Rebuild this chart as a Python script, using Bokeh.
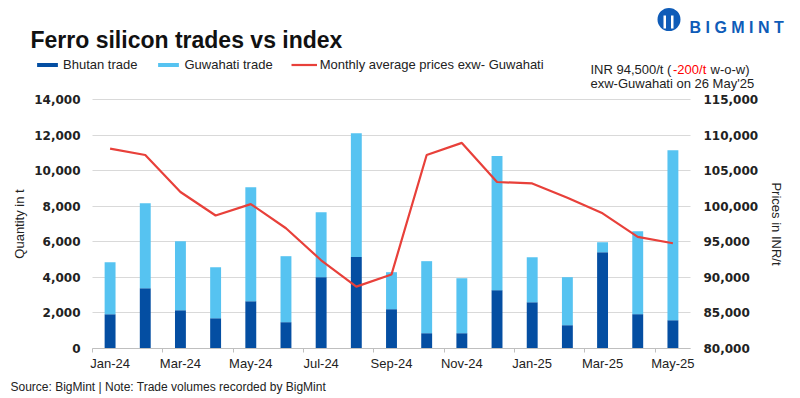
from bokeh.plotting import figure
from bokeh.models import (Range1d, LinearAxis, FixedTicker, NumeralTickFormatter, Grid,
                          Legend, LegendItem, Label, BoxAnnotation, ColumnDataSource)
from bokeh.embed import file_html
from bokeh.resources import INLINE

months = ["Jan-24", "Feb-24", "Mar-24", "Apr-24", "May-24", "Jun-24", "Jul-24", "Aug-24",
          "Sep-24", "Oct-24", "Nov-24", "Dec-24", "Jan-25", "Feb-25", "Mar-25", "Apr-25", "May-25"]
bhutan = [1930, 3390, 2150, 1700, 2660, 1480, 4010, 5150, 2210, 860, 860, 3280, 2600, 1310, 5410, 1930, 1590]
guwahati = [2920, 4770, 3880, 2870, 6400, 3710, 3650, 6950, 2080, 4050, 3090, 7540, 2530, 2700, 560, 4660, 9550]
price = [108100, 107200, 102000, 98700, 100300, 96900, 92400, 88700, 90400, 107200, 108900,
         103400, 103200, 101200, 99000, 95700, 94800]
qty_ticks = [0, 2000, 4000, 6000, 8000, 10000, 12000, 14000]
price_ticks = [80000, 85000, 90000, 95000, 100000, 105000, 110000, 115000]
series_names = ["Bhutan trade", "Guwahati trade", "Monthly average prices exw- Guwahati"]

DARK = "#044EA2"
LIGHT = "#56C3F1"
RED = "#E8403A"
TXT = "#222222"
LOGO = "#0F5CB8"

# canvas and plot-area box (pixels)
W, H = 800, 398
PL, PR, PT, PB = 92, 690, 99, 348

n = len(months)
x = list(range(n))
# ranges chosen so that the chart area maps onto the PL..PR / PT..PB pixel box
xs = (n) / (PR - PL)
x0, x1 = -0.5 - PL * xs, -0.5 + (W - PL) * xs
qs = (qty_ticks[-1] - qty_ticks[0]) / (PB - PT)
q0, q1 = qty_ticks[0] - (H - PB) * qs, qty_ticks[0] + PB * qs
ps = (price_ticks[-1] - price_ticks[0]) / (PB - PT)
pr0, pr1 = price_ticks[0] - (H - PB) * ps, price_ticks[0] + PB * ps

src = ColumnDataSource(dict(x=x, bhutan=bhutan, guwahati=guwahati, price=price))

p = figure(width=W, height=H, output_backend="svg", toolbar_location=None, title=None,
           x_range=Range1d(x0, x1), y_range=Range1d(q0, q1),
           min_border_left=0, min_border_right=0, min_border_top=0, min_border_bottom=0)
p.outline_line_color = None
p.background_fill_color = "white"
p.border_fill_color = "white"
p.extra_y_ranges = {"price": Range1d(pr0, pr1)}

# grid lines limited to the chart area
p.xgrid.visible = False
yg = p.ygrid[0]
yg.ticker = FixedTicker(ticks=qty_ticks)
yg.grid_line_color = "#d9d9d9"
yg.grid_line_width = 1
if "cross_bounds" in Grid.properties():
    yg.cross_bounds = (-0.5, n - 0.5)
else:
    yg.visible = False
    p.segment(x0=[-0.5] * len(qty_ticks), x1=[n - 0.5] * len(qty_ticks), y0=qty_ticks,
              y1=qty_ticks, line_color="#d9d9d9", line_width=1)

bars = p.vbar_stack(["bhutan", "guwahati"], x="x", width=0.31, color=[DARK, LIGHT],
                    line_color=None, source=src)
line = p.line("x", "price", source=src, y_range_name="price", line_color=RED, line_width=2.2)

# bottom axis
xa = p.xaxis[0]
xa.fixed_location = qty_ticks[0]
xa.bounds = (-0.5, n - 0.5)
xa.ticker = FixedTicker(ticks=x[::2], minor_ticks=[i - 0.5 for i in x[::2]])
xa.major_label_overrides = {i: months[i] for i in x}
xa.major_tick_line_color = None
xa.major_tick_out = 0
xa.major_tick_in = 0
xa.minor_tick_line_color = "#bfbfbf"
xa.minor_tick_out = 4
xa.minor_tick_in = 0
xa.axis_line_color = "#bfbfbf"
xa.major_label_text_font = "Liberation Sans"
xa.major_label_text_font_size = "13px"
xa.major_label_text_color = TXT
xa.major_label_standoff = 3

# left axis
ya = p.yaxis[0]
ya.fixed_location = -0.5
ya.bounds = (qty_ticks[0], qty_ticks[-1])
ya.ticker = FixedTicker(ticks=qty_ticks)
ya.formatter = NumeralTickFormatter(format="0,0")
ya.axis_label = "Quantity in t"
ya.axis_line_color = None
ya.major_tick_line_color = None
ya.minor_tick_line_color = None
ya.major_tick_out = 0
ya.major_label_standoff = 12
ya.major_label_text_font = "DejaVu Sans"
ya.major_label_text_font_style = "bold"
ya.major_label_text_font_size = "12px"
ya.major_label_text_color = TXT
ya.axis_label_text_font = "Liberation Sans"
ya.axis_label_text_font_style = "normal"
ya.axis_label_text_font_size = "13px"
ya.axis_label_text_color = TXT
ya.axis_label_standoff = 4

# right axis
ra = LinearAxis(y_range_name="price", ticker=FixedTicker(ticks=price_ticks),
                formatter=NumeralTickFormatter(format="0,0"), axis_label="Prices in INR/t",
                fixed_location=n - 0.5, bounds=(price_ticks[0], price_ticks[-1]))
ra.axis_line_color = None
ra.major_tick_line_color = None
ra.minor_tick_line_color = None
ra.major_tick_out = 0
ra.major_label_standoff = 13
ra.major_label_text_font = "DejaVu Sans"
ra.major_label_text_font_style = "bold"
ra.major_label_text_font_size = "12px"
ra.major_label_text_color = TXT
ra.axis_label_text_font = "Liberation Sans"
ra.axis_label_text_font_style = "normal"
ra.axis_label_text_font_size = "13px"
ra.axis_label_text_color = TXT
ra.axis_label_standoff = 8
p.add_layout(ra, "right")

# legend
legend = Legend(items=[LegendItem(label=series_names[0], renderers=[bars[0]]),
                       LegendItem(label=series_names[1], renderers=[bars[1]]),
                       LegendItem(label=series_names[2], renderers=[line])],
                orientation="horizontal", location=(34, H - 71.5))
legend.padding = 0
legend.margin = 0
legend.spacing = 18
legend.glyph_width = 26
legend.glyph_height = 5
legend.label_height = 15
legend.label_standoff = 3
legend.label_text_font = "Liberation Sans"
legend.label_text_font_size = "13px"
legend.label_text_color = TXT
legend.background_fill_alpha = 0
legend.border_line_alpha = 0
p.add_layout(legend, "center")


def lab(text, px, py, size, color=TXT, style="normal", font="Liberation Sans"):
    # px, py: page pixels from top-left, py is the text baseline
    p.add_layout(Label(x=px, y=H - py, x_units="screen", y_units="screen", text=text,
                       text_font=font, text_font_size=size, text_color=color,
                       text_font_style=style, text_baseline="alphabetic", text_align="left"))


def box(l, r, t, b, color, radius=0):
    p.add_layout(BoxAnnotation(left=l, right=r, top=H - t, bottom=H - b, left_units="screen",
                               right_units="screen", top_units="screen", bottom_units="screen",
                               fill_color=color, fill_alpha=1, line_color=None,
                               border_radius=radius))


lab("Ferro silicon trades vs index", 30, 39.5, "23px", "#111111", "bold")
lab("INR 94,500/t (", 590, 69, "13px")
lab("-200/t", 672.5, 69, "13px", "#FF0000")
lab("w-o-w)", 710, 69, "13px")
lab("exw-Guwahati  on 26 May'25", 590, 82.5, "13px")
lab("Source: BigMint | Note: Trade volumes recorded by BigMint", 10, 386.5, "12px")

# logo
box(657, 680, 7.5, 30.5, LOGO, 12)
box(663, 665.5, 15, 28, "white")
box(670.5, 673, 15, 28, "white")
lab("B I G M I N T", 689, 27.3, "16px", LOGO, "bold")

open("out.html", "w").write(file_html(p, INLINE))
